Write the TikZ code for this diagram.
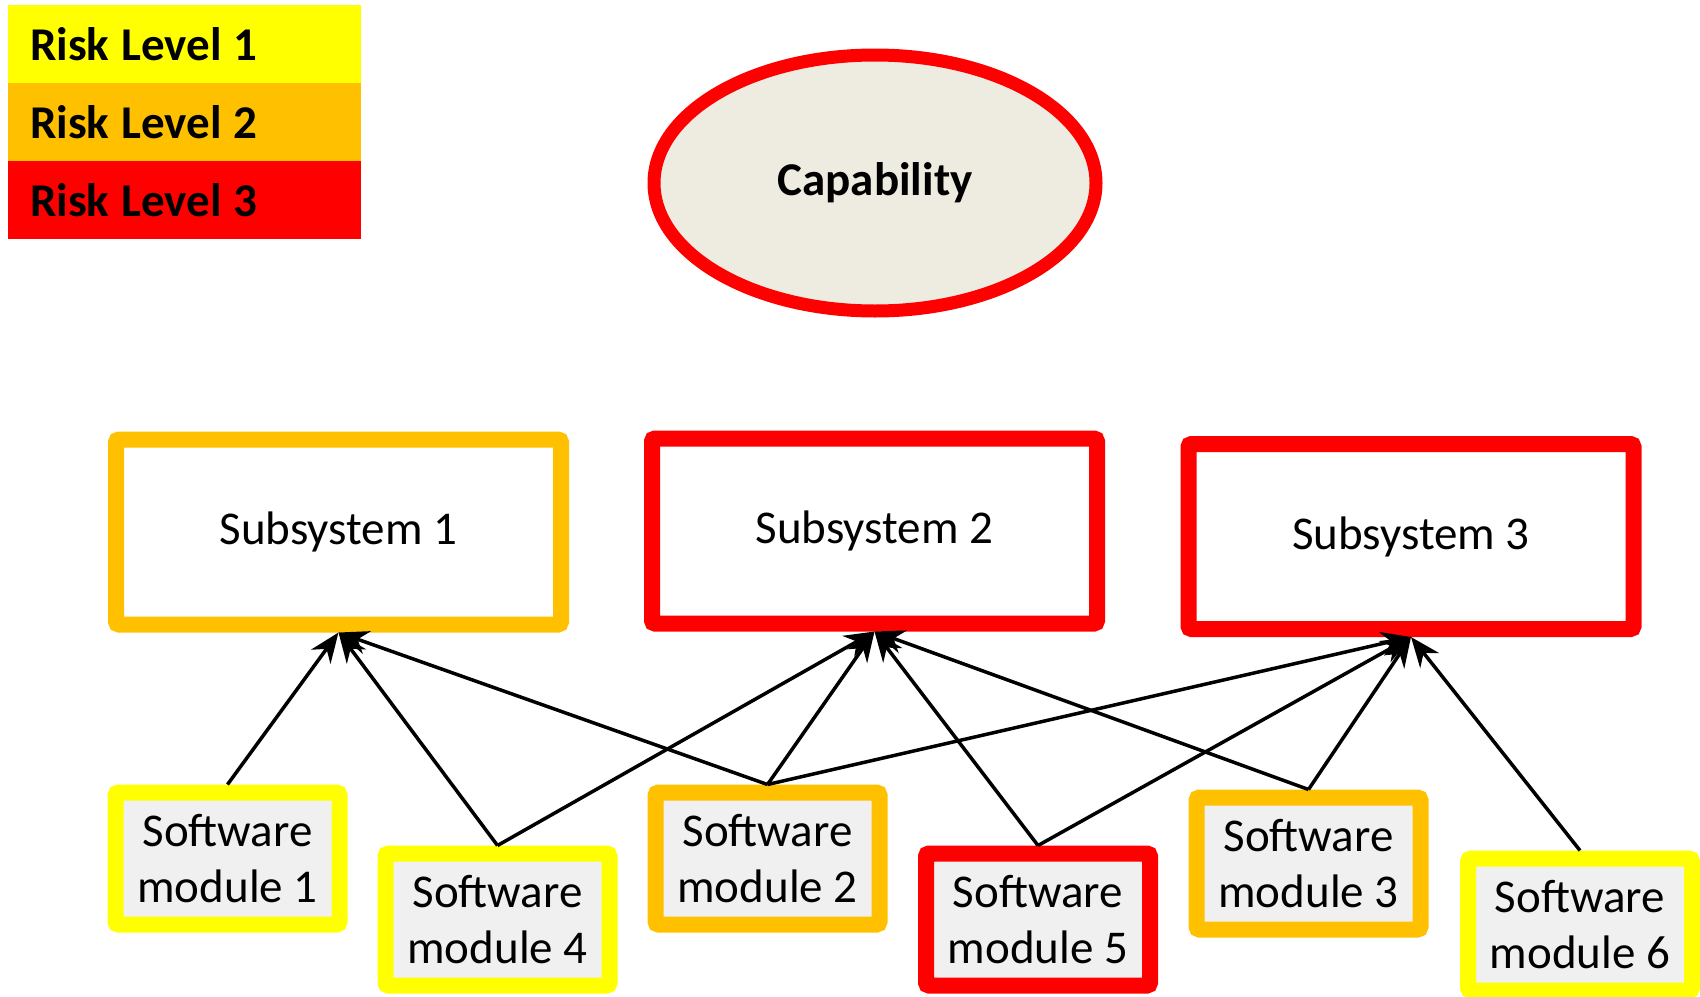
\documentclass[tikz,border=0pt]{standalone}
\usepackage{fontspec}
\setmainfont{Carlito}
\usepackage{xcolor}
\usepackage{tikz}
\usetikzlibrary{arrows.meta,shapes.geometric}
\definecolor{rYellow}{HTML}{FFFF00}
\definecolor{rOrange}{HTML}{FFC000}
\definecolor{rRed}{HTML}{FF0000}
\definecolor{capFill}{HTML}{EEECE1}
\definecolor{modFill}{HTML}{F0F0F0}
\tikzset{
  bigtxt/.style={font=\fontsize{47}{56}\selectfont},
  legrow/.style={font=\fontsize{47}{56}\selectfont\bfseries,
    execute at begin node={\spaceskip 12pt\relax},
    minimum height=78pt, text width=309pt, inner xsep=22pt, inner ysep=0pt, align=left},
  subsys/.style={bigtxt, draw, line width=16pt, rounded corners=3pt, fill=white,
    minimum width=445pt, minimum height=185pt, inner sep=0pt},
  module/.style={bigtxt, draw, line width=16pt, rounded corners=3pt, fill=modFill,
    minimum width=224pt, minimum height=132pt, inner sep=0pt, align=center},
  link/.style={->, line width=3.5pt, black},
}
\begin{document}
\begin{tikzpicture}[x=1pt, y=-1pt, >={Stealth[length=30pt,width=24pt]}]
  \useasboundingbox (0,0) rectangle (1700,996);
  % legend
  \node[legrow, fill=rYellow] (l1) at (184.5,44) {Risk Level 1};
  \node[legrow, fill=rOrange] (l2) at (184.5,122) {Risk Level 2};
  \node[legrow, fill=rRed] (l3) at (184.5,200) {Risk Level 3};
  % capability
  \node[ellipse, draw=rRed, line width=13pt, fill=capFill, minimum width=442pt,
    minimum height=256pt, inner sep=0pt, font=\fontsize{47}{56}\selectfont\bfseries]
    (cap) at (875,183) {Capability};
  % subsystems
  \node[subsys, draw=rOrange] (s1) at (338.5,532) {Subsystem 1};
  \node[subsys, draw=rRed] (s2) at (874.5,531) {Subsystem 2};
  \node[subsys, draw=rRed] (s3) at (1411,536.5) {Subsystem 3};
  % software modules
  \node[module, draw=rYellow] (m1) at (227.5,858.5) {Software\\module 1};
  \node[module, draw=rYellow] (m4) at (497.5,919.5) {Software\\module 4};
  \node[module, draw=rOrange] (m2) at (767.5,858.5) {Software\\module 2};
  \node[module, draw=rRed] (m5) at (1038,919.5) {Software\\module 5};
  \node[module, draw=rOrange] (m3) at (1308.5,863.5) {Software\\module 3};
  \node[module, draw=rYellow] (m6) at (1580,924.5) {Software\\module 6};
  % links
  \foreach \m in {m1,m4,m2} \draw[link] (\m.north) -- (s1.south);
  \foreach \m in {m4,m2,m5,m3} \draw[link] (\m.north) -- (s2.south);
  \foreach \m in {m2,m5,m3,m6} \draw[link] (\m.north) -- (s3.south);
\end{tikzpicture}
\end{document}
